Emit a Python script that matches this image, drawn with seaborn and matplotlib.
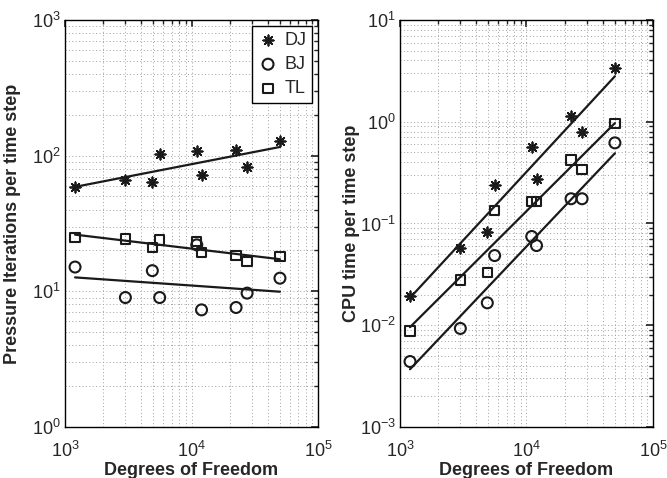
import numpy as np
import seaborn as sns
import matplotlib.pyplot as plt

# degrees of freedom (shared by all series)
dof = [1200, 3000, 4900, 5600, 11000, 12000, 22500, 27500, 50000]

# pressure iterations per time step
iter_dj = [59, 66, 64, 102, 109, 72, 110, 82, 128]
iter_bj = [15.1, 9.0, 14.2, 9.0, 22.0, 7.3, 7.6, 9.7, 12.5]
iter_tl = [25.0, 24.3, 21.1, 23.9, 23.2, 19.4, 18.3, 16.6, 18.0]

# CPU time per time step
cpu_dj = [0.0196, 0.0572, 0.083, 0.239, 0.57, 0.274, 1.15, 0.80, 3.40]
cpu_bj = [0.0044, 0.0093, 0.0166, 0.0484, 0.0745, 0.0607, 0.175, 0.175, 0.62]
cpu_tl = [0.0088, 0.0279, 0.033, 0.134, 0.164, 0.164, 0.419, 0.341, 0.96]

labels = ['DJ', 'BJ', 'TL']
markers = [(8, 2, 0), 'o', 's']
sizes = [55, 62, 46]


def loglog_fit(x, y):
    p = np.polyfit(np.log10(x), np.log10(y), 1)
    return 10 ** np.polyval(p, np.log10(x))


def style_axis(ax, ylim, ylabel, ylabelpad):
    ax.set_xscale('log')
    ax.set_yscale('log')
    ax.set_xlim(1e3, 1e5)
    ax.set_ylim(*ylim)
    ax.grid(True, which='both', linestyle=(0, (1, 2.5)), color='#a0a0a0', linewidth=0.7)
    ax.tick_params(which='both', direction='in', top=True, right=True, labelsize=13)
    ax.tick_params(axis='x', pad=10)
    ax.tick_params(axis='y', pad=3)
    ax.tick_params(which='major', length=5)
    ax.tick_params(which='minor', length=3)
    for sp in ax.spines.values():
        sp.set_linewidth(1.0)
        sp.set_color('black')
    ax.set_xlabel('Degrees of Freedom', fontsize=13, fontweight='bold', labelpad=1)
    ax.set_ylabel(ylabel, fontsize=13, fontweight='bold', labelpad=ylabelpad)


def draw_panel(ax, series):
    for ys, lab, mk, sz in zip(series, labels, markers, sizes):
        if lab == 'DJ':
            # asterisk is a line marker, so it only takes a plain colour
            sns.scatterplot(x=dof, y=ys, ax=ax, marker=mk, s=sz, color='k',
                            linewidth=1.3, label=lab, zorder=3)
        else:
            sns.scatterplot(x=dof, y=ys, ax=ax, marker=mk, s=sz, color='k',
                            facecolor='none', edgecolor='k', linewidth=1.5,
                            label=lab, zorder=3)
        sns.lineplot(x=dof, y=loglog_fit(dof, ys), ax=ax, color='k',
                     linewidth=1.6, zorder=2)


def main():
    sns.set_theme(style='white')
    plt.rcParams['font.family'] = ['Liberation Sans', 'DejaVu Sans']
    plt.rcParams['mathtext.fontset'] = 'custom'
    plt.rcParams['mathtext.rm'] = 'Liberation Sans'

    fig = plt.figure(figsize=(6.67, 4.78), dpi=100)
    ax1 = fig.add_axes([0.0975, 0.1067, 0.3793, 0.8515])
    ax2 = fig.add_axes([0.5997, 0.1067, 0.3793, 0.8515])

    style_axis(ax1, (1, 1e3), 'Pressure Iterations per time step', 8)
    style_axis(ax2, (1e-3, 10), 'CPU time per time step', 0)

    draw_panel(ax1, [iter_dj, iter_bj, iter_tl])
    draw_panel(ax2, [cpu_dj, cpu_bj, cpu_tl])

    leg = ax1.legend(loc='upper right', fontsize=13, frameon=True, fancybox=False,
                     framealpha=1, edgecolor='black', borderaxespad=0.35,
                     handletextpad=0.3, labelspacing=0.4, borderpad=0.3,
                     handlelength=1.2)
    leg.get_frame().set_linewidth(1.0)
    ax2.legend().remove()

    fig.savefig('out.png', dpi=100)


if __name__ == "__main__":
    main()
